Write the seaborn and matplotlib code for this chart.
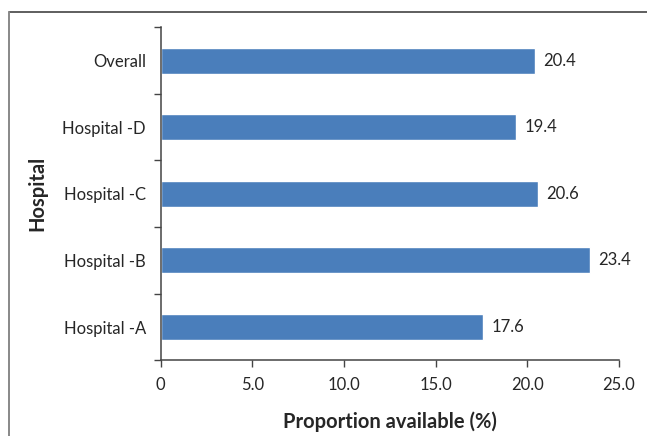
import matplotlib
matplotlib.use("Agg")
import matplotlib.pyplot as plt
import seaborn as sns
import pandas as pd
from matplotlib.lines import Line2D
from matplotlib.ticker import FixedLocator

categories = ["Overall", "Hospital -D", "Hospital -C", "Hospital -B", "Hospital -A"]
values = [20.4, 19.4, 20.6, 23.4, 17.6]
xticks = [0, 5, 10, 15, 20, 25]
xtick_labels = ["0", "5.0", "10.0", "15.0", "20.0", "25.0"]

sns.set_style("white")
plt.rcParams["font.family"] = ["Lato", "DejaVu Sans"]

df = pd.DataFrame({"hospital": categories, "value": values})

W, H = 647, 436
fig = plt.figure(figsize=(W / 100, H / 100), dpi=100)
ax = fig.add_axes([160.5 / W, 1 - 360.3 / H, (619 - 160.5) / W, (360.3 - 27.3) / H])

sns.barplot(data=df, y="hospital", x="value", color="#4a7ebb", width=0.39,
            saturation=1, ax=ax, order=categories)

txt = "#262626"
ax.set_xlim(0, 25)
ax.set_ylim(len(categories) - 0.5, -0.5)
ax.set_xticks(xticks)
ax.set_xticklabels(xtick_labels, fontsize=12, color=txt)
ax.tick_params(axis="x", direction="out", length=5, width=1, color="#444444", pad=7, bottom=True)
ax.tick_params(axis="y", which="major", length=0, pad=10.5, labelsize=12, labelcolor=txt)
ax.yaxis.set_minor_locator(FixedLocator([i - 0.5 for i in range(len(categories) + 1)]))
ax.tick_params(axis="y", which="minor", direction="out", length=5, width=1, color="#444444", left=True)

for s in ["top", "right"]:
    ax.spines[s].set_visible(False)
for s in ["left", "bottom"]:
    ax.spines[s].set_color("#444444")
    ax.spines[s].set_linewidth(1.1)

for i, v in enumerate(values):
    ax.text(v + 0.44, i, f"{v:.1f}", va="center", ha="left", fontsize=12, color=txt)

ax.set_xlabel("Proportion available (%)", fontsize=14.5, fontweight="bold", color=txt)
ax.xaxis.set_label_coords(0.5, -0.155)
ax.set_ylabel("Hospital", fontsize=14.5, fontweight="bold", color=txt)
ax.yaxis.set_label_coords(-(160.5 - 47) / (619 - 160.5), 0.5)

# outer frame (only top and left edges visible in the crop)
fig.lines.append(Line2D([8.7 / W, 1.0], [1 - 12.3 / H, 1 - 12.3 / H], transform=fig.transFigure,
                        color="#333333", linewidth=1.1))
fig.lines.append(Line2D([8.7 / W, 8.7 / W], [0, 1 - 12.3 / H], transform=fig.transFigure,
                        color="#888888", linewidth=1.4))

fig.savefig("out.png", dpi=100)
